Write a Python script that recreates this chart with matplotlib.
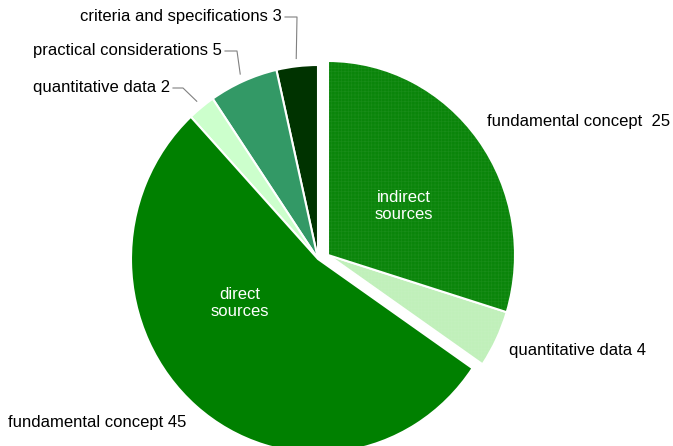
import matplotlib.pyplot as plt
from matplotlib.patches import Wedge
import numpy as np

# slices, counter-clockwise from 12 o'clock
labels = ["criteria and specifications", "practical considerations", "quantitative data",
          "fundamental concept", "quantitative data", "fundamental concept "]
values = [3, 5, 2, 45, 4, 25]
source = ["direct", "direct", "direct", "direct", "indirect", "indirect"]
colors = ["#003300", "#339966", "#ccffcc", "#008000", "#c0f0ba", "#0a850a"]

plt.rcParams['font.family'] = ['Liberation Sans', 'DejaVu Sans']
plt.rcParams['font.size'] = 12
plt.rcParams['hatch.linewidth'] = 0.5

W, H = 673, 446
fig = plt.figure(figsize=(W / 100, H / 100), dpi=100)
ax = fig.add_axes([0, 0, 1, 1])

cx, cy, rx, ry = 318, 259, 187, 194   # pie centre and radii in pixels


def px(x, y):
    # pixel position (from top-left) -> data coords
    return (x - cx) / rx, (cy - y) / ry


wedges, _ = ax.pie(values, colors=colors, startangle=90, counterclock=True,
                   wedgeprops=dict(edgecolor='white', linewidth=1.5))
ax.set_aspect('auto')
ax.set_xlim(-cx / rx, (W - cx) / rx)
ax.set_ylim(-(H - cy) / ry, cy / ry)
ax.axis('off')

# pull the indirect sources out a little, with a fine grid texture
shift = (10 / rx, 4 / ry)
for w, s in zip(wedges, source):
    if s == 'indirect':
        w.set_center(shift)
        ax.add_patch(Wedge(shift, w.r, w.theta1, w.theta2, facecolor='none',
                           edgecolor=(1, 1, 1, 0.06), linewidth=0, hatch='+++++'))


def edge_point(w, r=1.04):
    ang = np.deg2rad((w.theta1 + w.theta2) / 2)
    return w.center[0] + r * np.cos(ang), w.center[1] + r * np.sin(ang)


def label(i):
    return "%s %d" % (labels[i], values[i])


# small slices: label on the left with a leader line
leaders = [(0, 282, 17, 297), (1, 222, 51, 237), (2, 170, 88, 183)]
for i, tx, ty, ex in leaders:
    ax.text(*px(tx, ty), label(i), ha='right', va='center')
    x0, y0 = px(tx + 3, ty)
    x1, _ = px(ex, ty)
    x2, y2 = edge_point(wedges[i])
    ax.plot([x0, x1, x2], [y0, y0, y2], color='#808080', lw=0.8)

ax.text(*px(487, 122), label(5), ha='left', va='center')
ax.text(*px(509, 350), label(4), ha='left', va='center')
ax.text(*px(8, 423), label(3), ha='left', va='center')

ax.text(*px(404, 206), "indirect\nsources", color='white', ha='center', va='center',
        linespacing=1.1)
ax.text(*px(240, 303), "direct\nsources", color='white', ha='center', va='center',
        linespacing=1.1)

fig.savefig('out.png', dpi=100)
